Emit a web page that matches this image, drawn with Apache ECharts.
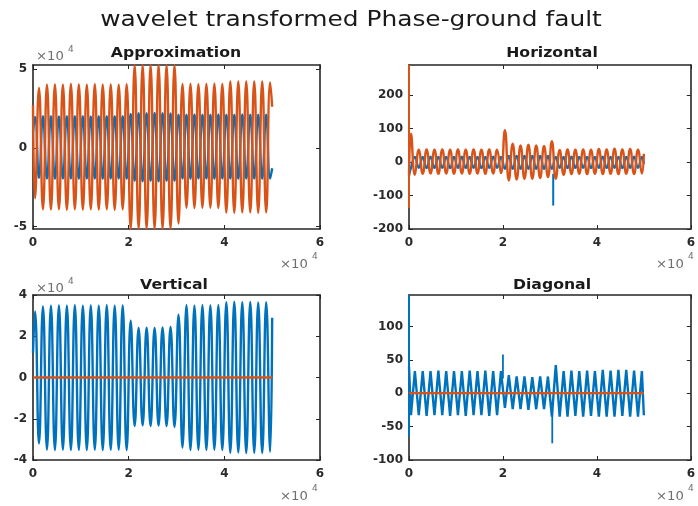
<!DOCTYPE html>
<html>
<head>
<meta charset="utf-8">
<script src="https://cdn.jsdelivr.net/npm/echarts@6/dist/echarts.min.js"></script>
<style>html,body{margin:0;padding:0;background:#fff}#c{width:698px;height:506px}</style>
</head>
<body>
<div id="c"></div>
<script>
// Shared sample positions of the oscillation extremes (sample index)
const extremaX = [0, 420, 1250, 2080, 2920, 3750, 4580, 5420, 6250, 7080, 7920, 8750, 9580, 10420, 11250, 12080, 12920, 13750, 14580, 15420, 16250, 17080, 17920, 18750, 19580, 20420, 21250, 22080, 22920, 23750, 24580, 25420, 26250, 27080, 27920, 28750, 29580, 30420, 31250, 32080, 32920, 33750, 34580, 35420, 36250, 37080, 37920, 38750, 39580, 40420, 41250, 42080, 42920, 43750, 44580, 45420, 46250, 47080, 47920, 48750, 49580, 50000];

// Approximation
const approxBlue = [10000,
  19500,-19000,20000,-19500,20000,-19600,19900,-19500,20000,-19500,20100,-19600,20000,-19500,19900,-19500,20000,-19600,20000,-19500,20100,-19500,20000,-19600,
  21500,-21000,22000,-21200,22000,-21000,22100,-21200,22000,-21000,21800,-21000,
  21000,-19500,21000,-19600,21100,-19500,21000,-19500,21000,-19600,21100,-19500,21000,-19500,21000,-19600,21100,-19500,21000,-19500,21000,-19600,21000,-19500,
  -13000];
const approxOrange = [27000,
  -32000,38000,-39000,40000,-39200,40200,-39000,40000,-39300,40500,-39000,40200,-39200,40000,-39000,40300,-39200,40000,-39000,40200,-39300,40000,-39000,40300,
  -51500,52500,-51500,52500,-51500,52500,-51500,52500,-51500,52500,-51500,52500,
  -48000,40500,-38000,40500,-38200,40300,-38000,40500,-38000,40600,-38200,40500,
  -41000,42000,-41200,42000,-41000,42100,-41000,42000,-41200,42000,-41000,41500,
  26000];

// Horizontal
const horizBlue = [-40,
  -17,15,-17,15,-18,16,-17,15,-17,15,-18,15,-17,16,-17,15,-17,15,-18,15,-17,16,-17,15,
  -20,18,-20,18,-20,18,-20,18,-20,18,-20,18,
  -20,15,-17,15,-18,16,-17,15,-17,15,-18,15,-17,16,-17,15,-17,15,-18,15,-17,16,-17,15,
  -5];
const horizOrange = [-40,
  85,-38,37,-35,38,-34,37,-35,38,-34,37,-35,38,-34,37,-35,38,-34,37,-35,38,-34,37,-33,
  95,-55,55,-52,50,-50,52,-50,50,-48,48,-45,
  62,-50,36,-38,38,-36,37,-35,38,-36,37,-35,
  39,-36,38,-35,40,-36,38,-35,39,-36,37,-34,
  25];
const horizOrangeSpikeX = [0, 0];
const horizOrangeSpikeY = [290, -137];
const horizBlueSpikeX = [30700, 30700];
const horizBlueSpikeY = [-35, -130];

// Vertical
const vertBlue = [12000,
  32000,-32000,34500,-35000,34800,-35200,34900,-35000,34800,-35200,35000,-35100,34800,-35200,34900,-35000,34800,-35200,35000,-35100,34800,-35000,34900,-35200,
  27500,-23500,24000,-23200,24200,-23500,24000,-23300,24300,-23500,24500,-24000,
  30500,-34000,35000,-35200,34800,-35000,35000,-35200,34900,-35000,35000,-35200,
  36500,-36500,36700,-36400,36500,-36600,36600,-36500,36400,-36600,36500,-36000,
  29000];
const flatX = [0, 50000];
const flatY = [0, 0];

// Diagonal
const diagBlue = [40,
  -33,33,-33,33,-34,33,-33,34,-33,33,-34,33,-33,33,-34,34,-33,33,-33,34,-34,33,-33,33,
  -22,27,-24,25,-24,25,-25,24,-24,25,-24,25,
  -35,42,-35,33,-35,34,-34,33,-35,34,-34,33,
  -35,35,-35,34,-35,35,-34,35,-35,34,-35,33,
  -33];
const diagSpikeX = [[0, 0], [20000, 20000], [30500, 30500]];
const diagSpikeY = [[147, -65], [22, 58], [-20, -75]];

// Axis ticks
const xTicks = [0, 20000, 40000, 60000];
const approxTicks = [-50000, 0, 50000];
const horizTicks = [-200, -100, 0, 100, 200];
const vertTicks = [-40000, -20000, 0, 20000, 40000];
const diagTicks = [-100, -50, 0, 50, 100];

const titles = ['Approximation', 'Horizontal', 'Vertical', 'Diagonal'];
const mainTitle = 'wavelet transformed Phase-ground fault';

const BLUE = '#0072BD', ORANGE = '#D95319', AX = '#262626';
const FONT = 'DejaVu Sans';

function pairs(xs, ys) { return xs.map((x, i) => [x, ys[i]]); }

const grids = [
  {left: 33, top: 65, width: 287, height: 164},
  {left: 409, top: 65, width: 286, height: 164},
  {left: 33, top: 295, width: 287, height: 165},
  {left: 409, top: 295, width: 286, height: 165}
];
const yRanges = [
  {min: -51500, max: 52500, ticks: approxTicks, fmt: v => String(v / 10000)},
  {min: -200, max: 290, ticks: horizTicks, fmt: v => String(v)},
  {min: -40000, max: 40000, ticks: vertTicks, fmt: v => String(v / 10000)},
  {min: -100, max: 147, ticks: diagTicks, fmt: v => String(v)}
];

const labelStyle = {color: '#2a2a2a', fontSize: 12, fontWeight: 'bold', fontFamily: FONT};
const xAxis = [], yAxis = [];
grids.forEach((g, gi) => {
  ['bottom', 'top'].forEach((pos, k) => {
    xAxis.push({
      type: 'value', gridIndex: gi, position: pos, min: 0, max: 60000,
      axisLine: {show: true, onZero: false, lineStyle: {color: AX, width: 1.6}},
      axisTick: {show: true, inside: true, length: 4, customValues: xTicks, lineStyle: {color: AX}},
      axisLabel: Object.assign({show: k === 0, customValues: xTicks, formatter: v => String(v / 10000), margin: 8}, labelStyle),
      splitLine: {show: false}
    });
  });
  const r = yRanges[gi];
  ['left', 'right'].forEach((pos, k) => {
    yAxis.push({
      type: 'value', gridIndex: gi, position: pos, min: r.min, max: r.max,
      axisLine: {show: true, onZero: false, lineStyle: {color: AX, width: 1.6}},
      axisTick: {show: true, inside: true, length: 4, customValues: r.ticks, lineStyle: {color: AX}},
      axisLabel: Object.assign({show: k === 0, customValues: r.ticks, formatter: r.fmt, margin: 6}, labelStyle),
      splitLine: {show: false}
    });
  });
});

function line(gi, data, color, width, smooth) {
  return {
    type: 'line', xAxisIndex: gi * 2, yAxisIndex: gi * 2, data: data,
    showSymbol: false, symbol: 'none', smooth: smooth ? 0.5 : false,
    lineStyle: {color: color, width: width}, itemStyle: {color: color},
    clip: true, animation: false, silent: true
  };
}

const W = 2.4;
const series = [
  line(0, pairs(extremaX, approxBlue), BLUE, W, true),
  line(0, pairs(extremaX, approxOrange), ORANGE, W, true),
  line(1, pairs(extremaX, horizBlue), BLUE, W, true),
  line(1, pairs(horizBlueSpikeX, horizBlueSpikeY), BLUE, 2, false),
  line(1, pairs(extremaX, horizOrange), ORANGE, W, true),
  line(1, pairs(horizOrangeSpikeX, horizOrangeSpikeY), ORANGE, 2, false),
  line(2, pairs(extremaX, vertBlue), BLUE, W, true),
  line(2, pairs(flatX, flatY), ORANGE, 2.6, false),
  line(3, pairs(extremaX, diagBlue), BLUE, W, false),
  line(3, pairs(diagSpikeX[0], diagSpikeY[0]), BLUE, 2, false),
  line(3, pairs(diagSpikeX[1], diagSpikeY[1]), BLUE, 1.8, false),
  line(3, pairs(diagSpikeX[2], diagSpikeY[2]), BLUE, 1.8, false),
  line(3, pairs(flatX, flatY), ORANGE, 2.2, false)
];

function txt(x, y, text, size, weight, color, align, sx) {
  return {type: 'text', x: x, y: y, silent: true, scaleX: sx || 1,
    style: {text: text, fill: color, font: weight + ' ' + size + 'px "' + FONT + '"', align: align, verticalAlign: 'middle', textAlign: align, textVerticalAlign: 'middle'}};
}
const exp = '#6e6e6e';
const graphic = [
  txt(351, 20, mainTitle, 22, 'normal', '#1a1a1a', 'center', 1.13),
  txt(176, 53, titles[0], 14, 'bold', '#1a1a1a', 'center', 1.12),
  txt(552, 53, titles[1], 14, 'bold', '#1a1a1a', 'center', 1.12),
  txt(174, 285, titles[2], 14, 'bold', '#1a1a1a', 'center', 1.12),
  txt(552, 285, titles[3], 14, 'bold', '#1a1a1a', 'center', 1.12),
  // y exponents
  txt(36, 57, '\u00d710', 12, 'normal', exp, 'left', 1.1),
  txt(68, 50, '4', 9, 'normal', exp, 'left'),
  txt(36, 289, '\u00d710', 12, 'normal', exp, 'left', 1.1),
  txt(68, 282, '4', 9, 'normal', exp, 'left'),
  // x exponents
  txt(280, 265, '\u00d710', 12, 'normal', exp, 'left', 1.1),
  txt(312, 257, '4', 9, 'normal', exp, 'left'),
  txt(656, 265, '\u00d710', 12, 'normal', exp, 'left', 1.1),
  txt(688, 257, '4', 9, 'normal', exp, 'left'),
  txt(280, 497, '\u00d710', 12, 'normal', exp, 'left', 1.1),
  txt(312, 489, '4', 9, 'normal', exp, 'left'),
  txt(656, 497, '\u00d710', 12, 'normal', exp, 'left', 1.1),
  txt(688, 489, '4', 9, 'normal', exp, 'left')
];

const chart = echarts.init(document.getElementById('c'), null, {renderer: 'canvas'});
chart.setOption({
  animation: false,
  backgroundColor: '#fff',
  grid: grids,
  xAxis: xAxis,
  yAxis: yAxis,
  series: series,
  graphic: graphic
});
</script>
</body>
</html>
